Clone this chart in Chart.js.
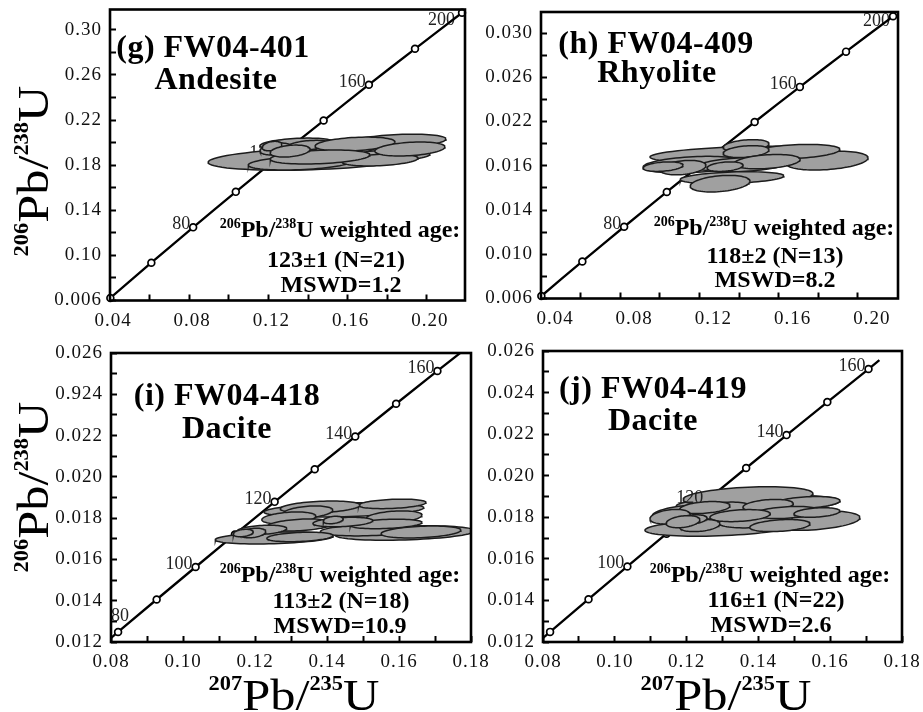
<!DOCTYPE html>
<html><head><meta charset="utf-8">
<script src="https://cdn.jsdelivr.net/npm/chart.js@4.4.0/dist/chart.umd.min.js"></script>
<style>
html,body{margin:0;padding:0;background:#fff;}
#wrap{position:relative;width:923px;height:712px;overflow:hidden;background:#fff;}
canvas{position:absolute;left:0;top:0;}
</style></head><body>
<div id="wrap">
<canvas id="cg" width="923" height="712"></canvas>
<canvas id="ch" width="923" height="712"></canvas>
<canvas id="ci" width="923" height="712"></canvas>
<canvas id="cj" width="923" height="712"></canvas>
</div>
<script>
// ---------- Concordia reference points (age Ma, 207Pb/235U, 206Pb/238U) ----------
const concAges = [40,50,60,70,80,90,100,110,120,130,140,150,160,170,180,190,200];
const conc207  = [0.04018,0.05047,0.06087,0.07137,0.08197,0.09268,0.10350,0.11442,0.12545,0.13659,0.14784,0.15920,0.17067,0.18226,0.19396,0.20577,0.21771];
const conc206  = [0.006224,0.007786,0.009351,0.010918,0.012487,0.014059,0.015633,0.017210,0.018789,0.020371,0.021955,0.023542,0.025131,0.026722,0.028316,0.029912,0.031511];
const jConcEnd207 = 0.1737;
const jConcEnd206 = 0.02556;

// ---------- (g) FW04-401 ellipses: centre x, centre y, half-width x, half-height y ----------
const gEllX  = [0.1420,0.1359,0.1854,0.1344,0.1410,0.1798,0.1788,0.1511,0.1238,0.1763,0.1586,0.1218,0.1637,0.1460,0.1914,0.1309];
const gEllY  = [0.01855,0.01819,0.02013,0.01987,0.01978,0.01934,0.01881,0.01907,0.01943,0.01846,0.01943,0.01969,0.01987,0.01872,0.01943,0.01925];
const gEllSX = [0.0525,0.0262,0.0242,0.0187,0.0111,0.0167,0.0227,0.0126,0.0081,0.0192,0.0151,0.0050,0.0202,0.0252,0.0177,0.0101];
const gEllSY = [0.00100,0.00062,0.00062,0.00053,0.00042,0.00053,0.00053,0.00053,0.00053,0.00053,0.00053,0.00042,0.00062,0.00062,0.00062,0.00053];

// ---------- (h) FW04-409 ----------
const hEllX  = [0.1430,0.1844,0.1682,0.1435,0.1435,0.1167,0.1415,0.1541,0.1117,0.1329,0.1016,0.1364,0.1304];
const hEllY  = [0.01901,0.01846,0.01928,0.01982,0.01928,0.01810,0.01810,0.01837,0.01783,0.01792,0.01792,0.01692,0.01638];
const hEllSX = [0.0480,0.0207,0.0227,0.0116,0.0116,0.0252,0.0227,0.0167,0.0116,0.0091,0.0101,0.0262,0.0151];
const hEllSY = [0.00075,0.00085,0.00065,0.00054,0.00054,0.00075,0.00065,0.00065,0.00065,0.00043,0.00043,0.00054,0.00075];

// ---------- (i) FW04-418 ----------
const iEllX  = [0.1447,0.1617,0.1253,0.1525,0.1581,0.1586,0.1564,0.1381,0.1347,0.1294,0.1325,0.1444,0.1417,0.1325,0.1661,0.1219,0.1194,0.1167];
const iEllY  = [0.01840,0.01728,0.01704,0.01743,0.01869,0.01806,0.01772,0.01854,0.01830,0.01801,0.01767,0.01781,0.01791,0.01709,0.01733,0.01743,0.01728,0.01728];
const iEllSX = [0.0222,0.0194,0.0164,0.0144,0.0094,0.0078,0.0100,0.0111,0.0069,0.0075,0.0092,0.0083,0.0028,0.0092,0.0111,0.0069,0.0036,0.0028];
const iEllSY = [0.00035,0.00035,0.00029,0.00029,0.00023,0.00029,0.00023,0.00029,0.00029,0.00029,0.00029,0.00023,0.00018,0.00023,0.00029,0.00023,0.00023,0.00018];

// ---------- (j) FW04-419 ----------
const jEllX  = [0.1399,0.1371,0.1290,0.1549,0.1391,0.1535,0.1204,0.1301,0.1427,0.1480,0.1563,0.1251,0.1349,0.1154,0.1460,0.1237,0.1215,0.1190];
const jEllY  = [0.01866,0.01900,0.01750,0.01784,0.01784,0.01871,0.01818,0.01832,0.01857,0.01823,0.01823,0.01847,0.01808,0.01803,0.01760,0.01760,0.01789,0.01779];
const jEllSX = [0.0228,0.0181,0.0206,0.0134,0.0103,0.0092,0.0100,0.0084,0.0070,0.0092,0.0064,0.0070,0.0084,0.0056,0.0084,0.0056,0.0042,0.0047];
const jEllSY = [0.00041,0.00047,0.00041,0.00047,0.00035,0.00029,0.00041,0.00041,0.00029,0.00029,0.00023,0.00029,0.00029,0.00035,0.00029,0.00029,0.00023,0.00029];

// ---------- Ticks and tick labels ----------
const topXTicks = [0.04,0.06,0.08,0.10,0.12,0.14,0.16,0.18,0.20];
const topXLabelVals = [0.04,0.08,0.12,0.16,0.20];
const topXLabels = ['0.04','0.08','0.12','0.16','0.20'];
const topYTicks = [0.006,0.008,0.010,0.012,0.014,0.016,0.018,0.020,0.022,0.024,0.026,0.028,0.030];
const topYLabelVals = [0.006,0.010,0.014,0.018,0.022,0.026,0.030];
const gYLabels = ['0.006','0.10','0.14','0.18','0.22','0.26','0.30'];
const hYLabels = ['0.006','0.010','0.014','0.016','0.022','0.026','0.030'];
const botXTicks = [0.08,0.09,0.10,0.11,0.12,0.13,0.14,0.15,0.16,0.17,0.18];
const botXLabelVals = [0.08,0.10,0.12,0.14,0.16,0.18];
const botXLabels = ['0.08','0.10','0.12','0.14','0.16','0.18'];
const botYTicks = [0.012,0.013,0.014,0.015,0.016,0.017,0.018,0.019,0.020,0.021,0.022,0.023,0.024,0.025,0.026];
const botYLabelVals = [0.012,0.014,0.016,0.018,0.020,0.022,0.024,0.026];
const iYLabels = ['0.012','0.014','0.016','0.018','0.020','0.022','0.924','0.026'];
const jYLabels = ['0.012','0.014','0.016','0.018','0.020','0.022','0.024','0.026'];

const FONT = "'Liberation Serif','Times New Roman',serif";
const ELL_RHO = 0.3;

function concPt(age){ const k = concAges.indexOf(age); return {x: conc207[k], y: conc206[k]}; }
function ellipsePts(cx, cy, sx, sy){
  const pts = [], n = 72, r2 = Math.sqrt(1 - ELL_RHO*ELL_RHO);
  for (let k = 0; k <= n; k++){
    const t = 2*Math.PI*k/n;
    pts.push({x: cx + sx*Math.cos(t), y: cy + sy*(ELL_RHO*Math.cos(t) + r2*Math.sin(t))});
  }
  return pts;
}
function labelFor(v, vals, labels){
  for (let k = 0; k < vals.length; k++) if (Math.abs(vals[k]-v) < 1e-7) return labels[k];
  return '';
}
function drawRich(ctx, it){
  ctx.save();
  ctx.fillStyle = it.color || '#000';
  ctx.textBaseline = 'alphabetic';
  ctx.textAlign = 'left';
  ctx.letterSpacing = (it.ls || 0) + 'px';
  const segs = it.parts.map(p => {
    const sup = p[1] === 's';
    const f = sup ? ((it.supBold === false ? '' : 'bold ') + it.supSize + 'px ' + FONT)
                  : ((it.bold ? 'bold ' : '') + it.size + 'px ' + FONT);
    ctx.font = f;
    return {t: p[0], f, sup, w: ctx.measureText(p[0]).width};
  });
  const total = segs.reduce((a, s) => a + s.w, 0);
  ctx.translate(it.x, it.y);
  if (it.rot) ctx.rotate(it.rot);
  if (it.sx) ctx.scale(it.sx, 1);
  let x = it.align === 'left' ? 0 : (it.align === 'right' ? -total : -total/2);
  segs.forEach(s => { ctx.font = s.f; ctx.fillText(s.t, x, s.sup ? -it.supRaise : 0); x += s.w; });
  ctx.restore();
}

function drawAgeLabels(chart, cfg){
  const ctx = chart.ctx, xs = chart.scales.x, ys = chart.scales.y;
  ctx.save();
  ctx.letterSpacing = '0px';
  ctx.fillStyle = '#222';
  ctx.font = '18px ' + FONT;
  ctx.textAlign = 'right';
  ctx.textBaseline = 'alphabetic';
  cfg.labelAges.forEach(a => {
    const p = concPt(a);
    const off = (cfg.labelOff && cfg.labelOff[a]) || [-3, 2];
    ctx.fillText(String(a), xs.getPixelForValue(p.x) + off[0], ys.getPixelForValue(p.y) + off[1]);
  });
  ctx.restore();
}

function makeDeco(cfg){
  return {
    id: 'deco_' + cfg.id,
    beforeDraw(chart){ chart.ctx.letterSpacing = '1px'; },
    beforeDatasetsDraw(chart){ if (!cfg.labelsOnTop) drawAgeLabels(chart, cfg); },
    afterDatasetsDraw(chart){ if (cfg.labelsOnTop) drawAgeLabels(chart, cfg); },
    afterDraw(chart){
      const ctx = chart.ctx, a = chart.chartArea;
      ctx.save();
      ctx.strokeStyle = '#000';
      ctx.lineWidth = 2.6;
      ctx.strokeRect(a.left, a.top, a.right - a.left, a.bottom - a.top);
      ctx.restore();
      cfg.texts.forEach(t => drawRich(ctx, t));
    }
  };
}

function axis(min, max, ticks, labelVals, labels, isX, labelOffset){
  return {
    type: 'linear', min, max,
    afterBuildTicks: s => { s.ticks = ticks.map(v => ({value: v})); },
    afterFit: s => {
      if (isX) s.height = 40; else s.width = 70;
      s.paddingLeft = 0; s.paddingRight = 0; s.paddingTop = 0; s.paddingBottom = 0;
    },
    ticks: {
      autoSkip: false, maxRotation: 0, minRotation: 0, padding: isX ? 15 : 14,
      labelOffset: labelOffset || 0,
      color: '#111', font: {family: FONT, size: 19},
      callback: v => labelFor(v, labelVals, labels)
    },
    grid: {display: true, drawOnChartArea: false, drawTicks: true, tickLength: -6, tickWidth: 2, tickColor: '#000'},
    border: {display: false}
  };
}

function makePanel(cfg){
  const datasets = [];
  cfg.ex.forEach((cx, k) => datasets.push({
    data: ellipsePts(cx, cfg.ey[k], cfg.esx[k], cfg.esy[k]),
    showLine: true, fill: 'shape', tension: 0,
    backgroundColor: '#a0a0a0', borderColor: '#1c1c1c', borderWidth: 1.5,
    pointRadius: 0, order: -k
  }));
  datasets.push({
    data: cfg.markerAges.map(concPt), showLine: false, clip: false,
    pointRadius: 3.4, pointBackgroundColor: '#fff', pointBorderColor: '#000', pointBorderWidth: 1.7, order: 1
  });
  const line = cfg.lineAges.map(concPt);
  if (cfg.lineEnd) line.push(cfg.lineEnd);
  datasets.push({data: line, showLine: true, borderColor: '#000', borderWidth: 2.3, pointRadius: 0, order: 2, tension: 0});

  const A = cfg.area;
  new Chart(document.getElementById(cfg.canvas), {
    type: 'scatter',
    data: {datasets},
    options: {
      responsive: false, animation: false, devicePixelRatio: 1,
      layout: {padding: {left: A.L - 70, right: 923 - A.R, top: A.T, bottom: 712 - A.B - 40}},
      plugins: {legend: {display: false}, tooltip: {enabled: false}},
      events: [],
      scales: {
        x: Object.assign(axis(cfg.xr[0], cfg.xr[1], cfg.xTicks, cfg.xLabelVals, cfg.xLabels, true, cfg.xLabelOffset), {position: 'bottom'}),
        y: Object.assign(axis(cfg.yr[0], cfg.yr[1], cfg.yTicks, cfg.yLabelVals, cfg.yLabels, false, 0), {position: 'left'})
      }
    },
    plugins: [makeDeco(cfg)]
  });
}

function ageBlock(cx, y0, ageTxt, mswd){
  return [
    {parts: [['206','s'],['Pb/','n'],['238','s'],['U weighted age:','n']], x: cx[0], y: y0[0], size: 24, supSize: 14, supRaise: 9, bold: true, align: 'center'},
    {parts: [[ageTxt,'n']], x: cx[1], y: y0[1], size: 24, bold: true, align: 'center'},
    {parts: [[mswd,'n']], x: cx[2], y: y0[2], size: 24, bold: true, align: 'center'}
  ];
}
function titleBlock(cx, y0, t1, t2){
  return [
    {parts: [[t1,'n']], x: cx[0], y: y0[0], size: 32, bold: true, align: 'center', ls: 0.5},
    {parts: [[t2,'n']], x: cx[1], y: y0[1], size: 32, bold: true, align: 'center', ls: 0.5}
  ];
}
const yTitle = (cy) => ({parts: [['206','s'],['Pb/','n'],['238','s'],['U','n']], x: 48, y: cy, rot: -Math.PI/2, sx: 1.12, size: 45, supSize: 20, supRaise: 20, bold: false, align: 'center'});
const xTitle = (cx) => ({parts: [['207','s'],['Pb/','n'],['235','s'],['U','n']], x: cx, y: 710, sx: 1.12, size: 45, supSize: 20, supRaise: 20, bold: false, align: 'center'});

const topAges = [40,50,60,70,80,90,100,110,120,130,140,150,160,170,180,190,200];
makePanel({
  id: 'g', canvas: 'cg', area: {L: 110, R: 465, T: 9.5, B: 300.5},
  xr: [0.04, 0.2192], yr: [0.006, 0.0318],
  xTicks: topXTicks, xLabelVals: topXLabelVals, xLabels: topXLabels, xLabelOffset: 3,
  yTicks: topYTicks, yLabelVals: topYLabelVals, yLabels: gYLabels,
  ex: gEllX, ey: gEllY, esx: gEllSX, esy: gEllSY,
  lineAges: topAges, markerAges: [40,60,80,100,120,140,160,180,200],
  labelAges: [80,120,160,200], labelOff: {200: [-7, 12]},
  texts: [].concat(titleBlock([213,216],[57,89],'(g) FW04-401','Andesite'),
                   ageBlock([340,336,341],[237,267,292],'123\u00B11 (N=21)','MSWD=1.2'),
                   [yTitle(171)])
});
makePanel({
  id: 'h', canvas: 'ch', area: {L: 541, R: 898, T: 12, B: 298.5},
  xr: [0.04, 0.2202], yr: [0.006, 0.0319],
  xTicks: topXTicks, xLabelVals: topXLabelVals, xLabels: topXLabels, xLabelOffset: 14,
  yTicks: topYTicks, yLabelVals: topYLabelVals, yLabels: hYLabels,
  ex: hEllX, ey: hEllY, esx: hEllSX, esy: hEllSY,
  lineAges: topAges, markerAges: [40,60,80,100,120,140,160,180,200],
  labelAges: [80,160,200], labelOff: {200: [-3, 10]},
  texts: [].concat(titleBlock([656,657],[53,82],'(h) FW04-409','Rhyolite'),
                   ageBlock([774,775,775],[235,263,287],'118\u00B12 (N=13)','MSWD=8.2'))
});
makePanel({
  id: 'i', canvas: 'ci', area: {L: 111, R: 471, T: 353, B: 642},
  xr: [0.08, 0.18], yr: [0.012, 0.026],
  xTicks: botXTicks, xLabelVals: botXLabelVals, xLabels: botXLabels, xLabelOffset: 0,
  yTicks: botYTicks, yLabelVals: botYLabelVals, yLabels: iYLabels,
  ex: iEllX, ey: iEllY, esx: iEllSX, esy: iEllSY,
  lineAges: [70,80,90,100,110,120,130,140,150,160,170], markerAges: [80,90,100,110,120,130,140,150,160],
  labelAges: [80,100,120,140,160], labelOff: {80: [11, -11]},
  texts: [].concat(titleBlock([227,227],[405,438],'(i) FW04-418','Dacite'),
                   ageBlock([340,341,340],[582,608,633],'113\u00B12 (N=18)','MSWD=10.9'),
                   [yTitle(487), xTitle(294)])
});
makePanel({
  id: 'j', canvas: 'cj', area: {L: 543, R: 902, T: 351, B: 642},
  xr: [0.08, 0.18], yr: [0.012, 0.026],
  xTicks: botXTicks, xLabelVals: botXLabelVals, xLabels: botXLabels, xLabelOffset: 0,
  yTicks: botYTicks, yLabelVals: botYLabelVals, yLabels: jYLabels,
  ex: jEllX, ey: jEllY, esx: jEllSX, esy: jEllSY,
  lineAges: [70,80,90,100,110,120,130,140,150,160], lineEnd: {x: jConcEnd207, y: jConcEnd206},
  markerAges: [80,90,100,110,120,130,140,150,160],
  labelAges: [100,120,140,160], labelsOnTop: true,
  texts: [].concat(titleBlock([653,653],[398,430],'(j) FW04-419','Dacite'),
                   ageBlock([770,776,771],[582,607,632],'116\u00B11 (N=22)','MSWD=2.6'),
                   [xTitle(726)])
});
</script>
</body></html>
